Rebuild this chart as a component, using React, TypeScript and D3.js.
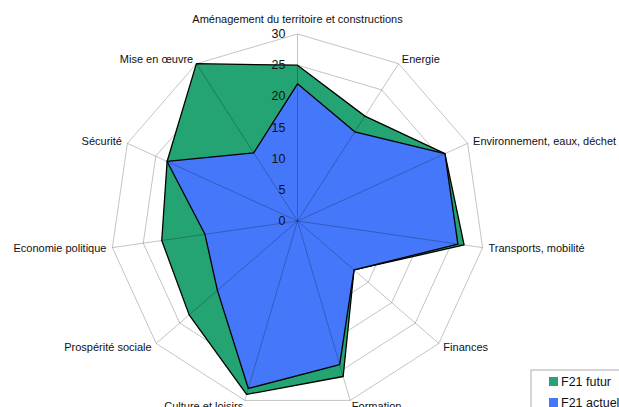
import React, { useEffect, useRef } from "react";
import * as d3 from "d3";

const axes = [
  "Aménagement du territoire et constructions",
  "Energie",
  "Environnement, eaux, déchet",
  "Transports, mobilité",
  "Finances",
  "Formation",
  "Culture et loisirs",
  "Prospérité sociale",
  "Economie politique",
  "Sécurité",
  "Mise en œuvre",
];
const futur = [25, 20, 26, 27, 12, 26, 29, 23, 22, 23, 30];
const actuel = [22, 17, 26, 26, 12, 24, 28, 17, 15, 23, 13];
const ticks = [0, 5, 10, 15, 20, 25, 30];
const seriesNames = ["F21 futur", "F21 actuel"];
const colors = ["#25a473", "#4577fa"];

function App() {
  const svgRef = useRef(null);
  const [width, height] = [619, 407];
  const cx = 297.5;
  const cy = 221;
  const R = 187;

  useEffect(() => {
    const svg = d3.select(svgRef.current);
    svg.selectAll("*").remove();
    const font = "'Liberation Sans', Arial, sans-serif";

    const angle = d3.scaleLinear().domain([0, axes.length]).range([0, 2 * Math.PI]);
    const r = d3.scaleLinear().domain([0, 30]).range([0, R]);
    const g = svg.append("g").attr("transform", `translate(${cx},${cy})`);

    const radial = (vals) =>
      d3
        .lineRadial()
        .angle((d, i) => angle(i))
        .radius((d) => r(d))
        .curve(d3.curveLinearClosed)(vals);

    // grid rings
    ticks.slice(1).forEach((t) => {
      g.append("path")
        .attr("d", radial(axes.map(() => t)))
        .attr("fill", "none")
        .attr("stroke", "#b5b5b5")
        .attr("stroke-width", 0.8);
    });

    // series, futur under actuel
    [futur, actuel].forEach((vals, k) => {
      g.append("path")
        .attr("d", radial(vals))
        .attr("fill", colors[k])
        .attr("stroke", "#000")
        .attr("stroke-width", 1.3)
        .attr("stroke-linejoin", "round");
    });

    // spokes on top
    axes.forEach((a, i) => {
      const an = angle(i);
      g.append("line")
        .attr("x1", 0)
        .attr("y1", 0)
        .attr("x2", r(30) * Math.sin(an))
        .attr("y2", -r(30) * Math.cos(an))
        .attr("stroke", "#000")
        .attr("stroke-opacity", 0.3)
        .attr("stroke-width", 0.8);
    });

    // axis labels
    axes.forEach((a, i) => {
      const an = angle(i);
      const s = Math.sin(an);
      const c = Math.cos(an);
      const rr = r(30) + (c > 0.9 ? 15 : 6);
      g.append("text")
        .attr("x", rr * s)
        .attr("y", -rr * c)
        .attr("text-anchor", Math.abs(s) < 0.1 ? "middle" : s > 0 ? "start" : "end")
        .attr("dominant-baseline", "central")
        .attr("font-family", font)
        .attr("font-size", 11)
        .attr("fill", "#111")
        .text(a);
    });

    // tick labels
    ticks.forEach((t) => {
      g.append("text")
        .attr("x", -12)
        .attr("y", -r(t))
        .attr("text-anchor", "end")
        .attr("dominant-baseline", "central")
        .attr("font-family", font)
        .attr("font-size", 12.5)
        .attr("fill", "#111")
        .text(t);
    });

    // legend
    const lg = svg.append("g").attr("transform", "translate(531,370)");
    lg.append("rect")
      .attr("width", 100)
      .attr("height", 50)
      .attr("fill", "#fff")
      .attr("stroke", "#999")
      .attr("stroke-width", 0.8);
    seriesNames.forEach((n, k) => {
      lg.append("rect")
        .attr("x", 18)
        .attr("y", 7 + k * 21)
        .attr("width", 9)
        .attr("height", 9)
        .attr("fill", colors[k]);
      lg.append("text")
        .attr("x", 30)
        .attr("y", 11.5 + k * 21)
        .attr("dominant-baseline", "central")
        .attr("font-family", font)
        .attr("font-size", 12.5)
        .attr("fill", "#111")
        .text(n);
    });
  }, []);

  return (
    <svg
      ref={svgRef}
      width={width}
      height={height}
      style={{ position: "absolute", left: 0, top: 0, background: "#fff" }}
    ></svg>
  );
}

export default App;
